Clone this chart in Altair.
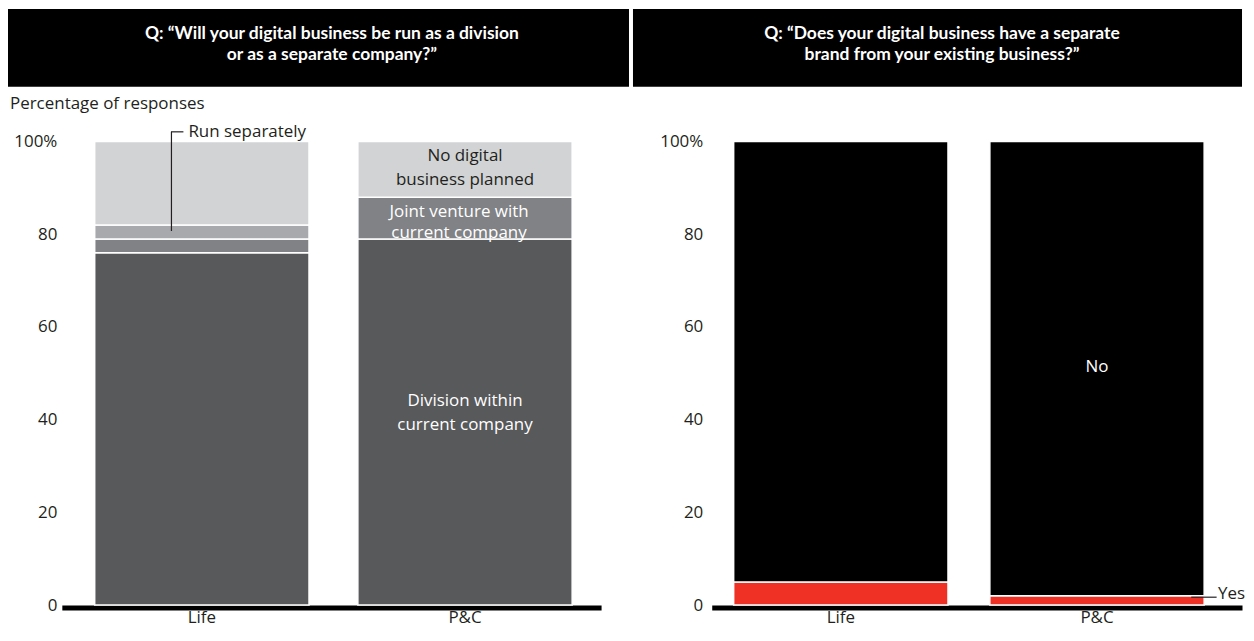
import altair as alt
import pandas as pd

FONT = "Open Sans"
HFONT = "Lato"
TXT = "#231f20"

categories = ["Life", "P&C"]

left_segments = ["Division within current company", "Joint venture with current company",
                 "Run separately", "No digital business planned"]
left_division = [76, 79]
left_joint = [3, 9]
left_separate = [3, 0]
left_none = [18, 12]
left_colors = ["#58595b", "#808285", "#a7a9ac", "#d1d3d4"]

right_segments = ["Yes", "No"]
right_yes = [5, 2]
right_no = [95, 98]
right_colors = ["#ee3124", "#000000"]

y_ticks = [0, 20, 40, 60, 80, 100]

left_title = ["Q: \u201cWill your digital business be run as a division", "or as a separate company?\u201d"]
right_title = ["Q: \u201cDoes your digital business have a separate", "brand from your existing business?\u201d"]

# in-bar label lines (P&C bar of the left panel)
label_lines = ["No digital", "business planned", "Joint venture with", "current company",
               "Division within", "current company"]
label_y = [96.9, 91.7, 84.9, 80.3, 44.0, 38.9]
label_color = [TXT, TXT, "white", "white", "white", "white"]
label_dx = [0, 0, -6, -6, 0, 0]

# ---------- tables ----------
rows = []
for i, c in enumerate(categories):
    for j, (seg, vals) in enumerate(zip(left_segments, [left_division, left_joint, left_separate, left_none])):
        rows.append({"category": c, "segment": seg, "value": vals[i], "order": j})
left_df = pd.DataFrame(rows)

rows = []
for i, c in enumerate(categories):
    for j, (seg, vals) in enumerate(zip(right_segments, [right_yes, right_no])):
        rows.append({"category": c, "segment": seg, "value": vals[i], "order": j})
right_df = pd.DataFrame(rows)

left_labels = pd.DataFrame({"category": "P&C", "y": label_y, "text": label_lines,
                            "color": label_color, "dx": label_dx})

yscale = alt.Scale(domain=[0, 100], nice=False)
W_L, W_R, H = 541, 532, 465
NOVIEW = alt.ViewBackground(stroke="transparent", strokeWidth=0)


def y_axis(pad):
    return alt.Axis(values=y_ticks, title=None, domain=False, ticks=False, grid=False,
                    labelExpr="datum.value == 100 ? '100%' : datum.label",
                    labelFontSize=17, labelColor=TXT, labelFont=FONT, labelPadding=pad)


def x_axis():
    return alt.Axis(title=None, labelAngle=0, ticks=False, domainWidth=5, domainColor="black",
                    offset=2.5, labelFontSize=17, labelColor=TXT, labelFont=FONT, labelPadding=2)


def header(lines, x, cx):
    box = alt.Chart(pd.DataFrame({"t": [1]})).mark_rect(color="black").encode(
        x=alt.value(x[0]), x2=alt.value(x[1]), y=alt.value(-133), y2=alt.value(-55))
    t1 = alt.Chart(pd.DataFrame({"t": [lines[0]]})).mark_text(
        font=HFONT, fontSize=17.5, fontWeight="bold", color="white", baseline="middle").encode(
        x=alt.value(cx), y=alt.value(-108), text="t")
    t2 = alt.Chart(pd.DataFrame({"t": [lines[1]]})).mark_text(
        font=HFONT, fontSize=17.5, fontWeight="bold", color="white", baseline="middle").encode(
        x=alt.value(cx), y=alt.value(-87), text="t")
    return [box, t1, t2]


# ---------- left panel ----------
xs_left = alt.Scale(domain=categories, paddingInner=0.1856, paddingOuter=0.1174, align=0.532)

bars_left = alt.Chart(left_df).mark_bar(stroke="white", strokeWidth=1.5).encode(
    x=alt.X("category:N", scale=xs_left, axis=x_axis(), sort=categories),
    y=alt.Y("value:Q", stack="zero", scale=yscale, axis=y_axis(5)),
    color=alt.Color("segment:N", scale=alt.Scale(domain=left_segments, range=left_colors), legend=None),
    order=alt.Order("order:Q"),
)

lab_left_a = alt.Chart(left_labels[left_labels.dx == 0]).mark_text(
    font=FONT, fontSize=17, baseline="middle").encode(
    x=alt.X("category:N", scale=xs_left), y=alt.Y("y:Q", scale=yscale),
    text="text", color=alt.Color("color:N", scale=None))
lab_left_b = alt.Chart(left_labels[left_labels.dx != 0]).mark_text(
    font=FONT, fontSize=17, baseline="middle", dx=-6).encode(
    x=alt.X("category:N", scale=xs_left), y=alt.Y("y:Q", scale=yscale),
    text="text", color=alt.Color("color:N", scale=None))

sep_df = pd.DataFrame({"category": ["Life"], "y1": [80.7], "y2": [102.1], "text": ["Run separately"]})
lead_v = alt.Chart(sep_df).mark_rule(color=TXT, strokeWidth=1.2, xOffset=-30.5).encode(
    x=alt.X("category:N", scale=xs_left), y=alt.Y("y1:Q", scale=yscale), y2="y2:Q")
lead_h = alt.Chart(sep_df).mark_rule(color=TXT, strokeWidth=1.2, xOffset=-31, x2Offset=-18.5).encode(
    x=alt.X("category:N", scale=xs_left), x2="category:N", y=alt.Y("y2:Q", scale=yscale))
lead_t = alt.Chart(sep_df).mark_text(font=FONT, fontSize=17, color=TXT, align="left", baseline="middle",
                                     dx=-13.5).encode(
    x=alt.X("category:N", scale=xs_left), y=alt.Y("y2:Q", scale=yscale), text="text")

ylab = alt.Chart(pd.DataFrame({"t": ["Percentage of responses"]})).mark_text(
    font=FONT, fontSize=17, color=TXT, align="left", baseline="middle").encode(
    x=alt.value(-52), y=alt.value(-38), text="t")

left = alt.layer(*header(left_title, (-54, 569), 271), ylab, bars_left, lab_left_a, lab_left_b,
                 lead_v, lead_h, lead_t).properties(width=W_L, height=H, view=NOVIEW)

# ---------- right panel ----------
xs_right = alt.Scale(domain=categories, paddingInner=0.1634, paddingOuter=0.1167, align=0.367)

bars_right = alt.Chart(right_df).mark_bar(stroke="white", strokeWidth=1.5).encode(
    x=alt.X("category:N", scale=xs_right, axis=x_axis(), sort=categories),
    y=alt.Y("value:Q", stack="zero", scale=yscale, axis=y_axis(9)),
    color=alt.Color("segment:N", scale=alt.Scale(domain=right_segments, range=right_colors), legend=None),
    order=alt.Order("order:Q"),
)

no_df = pd.DataFrame({"category": ["P&C"], "y": [51.4], "text": ["No"]})
no_t = alt.Chart(no_df).mark_text(font=FONT, fontSize=17, color="white", baseline="middle").encode(
    x=alt.X("category:N", scale=xs_right), y=alt.Y("y:Q", scale=yscale), text="text")

yes_df = pd.DataFrame({"category": ["P&C"], "y": [1.7], "yt": [2.4], "text": ["Yes"]})
yes_l = alt.Chart(yes_df).mark_rule(color=TXT, strokeWidth=1.2, xOffset=94.5, x2Offset=120).encode(
    x=alt.X("category:N", scale=xs_right), x2="category:N", y=alt.Y("y:Q", scale=yscale))
yes_t = alt.Chart(yes_df).mark_text(font=FONT, fontSize=17, color=TXT, align="left", baseline="middle",
                                    dx=121.5).encode(
    x=alt.X("category:N", scale=xs_right), y=alt.Y("yt:Q", scale=yscale), text="text")

right = alt.layer(*header(right_title, (-79, 532), 231), bars_right, no_t, yes_l, yes_t).properties(
    width=W_R, height=H, view=NOVIEW)

chart = alt.hconcat(left, right, spacing=4).resolve_scale(
    x="independent", y="independent", color="independent").configure_view(
    stroke="transparent", strokeWidth=0).configure(padding=0)

chart.save("out.html", embed_options={"renderer": "svg", "actions": False})
